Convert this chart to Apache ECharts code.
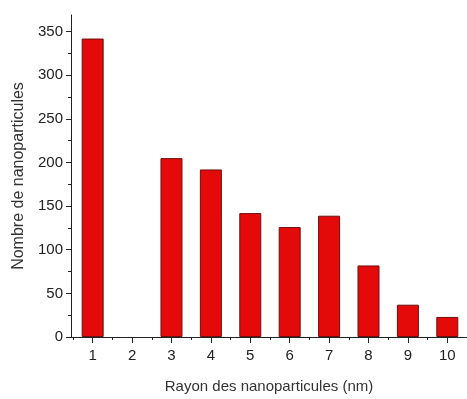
<!DOCTYPE html>
<html>
<head>
<meta charset="utf-8">
<script src="https://cdn.jsdelivr.net/npm/echarts@6/dist/echarts.min.js"></script>
<style>html,body{margin:0;padding:0;background:#fff;}#c{width:467px;height:399px;}</style>
</head>
<body>
<div id="c"></div>
<script>
var radii = [1, 2, 3, 4, 5, 6, 7, 8, 9, 10];
var counts = [342, 0, 205, 192, 142, 126, 139, 82, 37, 23];
var yTicks = [0, 50, 100, 150, 200, 250, 300, 350];
var yMinorTicks = [25, 75, 125, 175, 225, 275, 325];
var xMinorTicks = [0.5, 1.5, 2.5, 3.5, 4.5, 5.5, 6.5, 7.5, 8.5, 9.5, 10.5];

var font = 'Liberation Sans, Arial, sans-serif';
var axisColor = '#222';
var chart = echarts.init(document.getElementById('c'), null, {renderer: 'canvas'});
chart.setOption({
  animation: false,
  backgroundColor: '#fff',
  grid: {left: 71, right: 0, top: 15, bottom: 58, containLabel: false},
  xAxis: [{
    type: 'value', min: 0.45, max: 10.5,
    name: 'Rayon des nanoparticules (nm)', nameLocation: 'middle', nameGap: 42,
    nameTextStyle: {fontFamily: font, fontSize: 15, color: '#333'},
    axisLine: {show: true, onZero: false, lineStyle: {color: axisColor, width: 1}},
    axisTick: {show: true, inside: false, length: 6, customValues: radii, lineStyle: {color: axisColor}},
    axisLabel: {customValues: radii, margin: 11, fontFamily: font, fontSize: 15, color: '#222'},
    splitLine: {show: false}
  }, {
    type: 'value', min: 0.45, max: 10.5, position: 'bottom',
    axisLine: {show: false},
    axisTick: {show: true, length: 3, customValues: xMinorTicks, lineStyle: {color: axisColor}},
    axisLabel: {show: false},
    splitLine: {show: false}
  }],
  yAxis: [{
    type: 'value', min: 0, max: 369,
    name: 'Nombre de nanoparticules', nameLocation: 'middle', nameGap: 44,
    nameTextStyle: {fontFamily: font, fontSize: 16, color: '#333'},
    axisLine: {show: true, onZero: false, lineStyle: {color: axisColor, width: 1}},
    axisTick: {show: true, length: 5, customValues: yTicks, lineStyle: {color: axisColor}},
    axisLabel: {customValues: yTicks, margin: 8, fontFamily: font, fontSize: 15, color: '#222'},
    splitLine: {show: false}
  }, {
    type: 'value', min: 0, max: 369, position: 'left',
    axisLine: {show: false},
    axisTick: {show: true, length: 3, customValues: yMinorTicks, lineStyle: {color: axisColor}},
    axisLabel: {show: false},
    splitLine: {show: false}
  }],
  series: [{
    type: 'bar',
    xAxisIndex: 0, yAxisIndex: 0,
    barWidth: 22,
    data: radii.map(function (r, i) {
      var item = {value: [r, counts[i]]};
      if (counts[i] === 0) { item.itemStyle = {borderWidth: 0}; }
      return item;
    }),
    itemStyle: {color: '#e50a0a', borderColor: '#6a1010', borderWidth: 1}
  }]
});
</script>
</body>
</html>
